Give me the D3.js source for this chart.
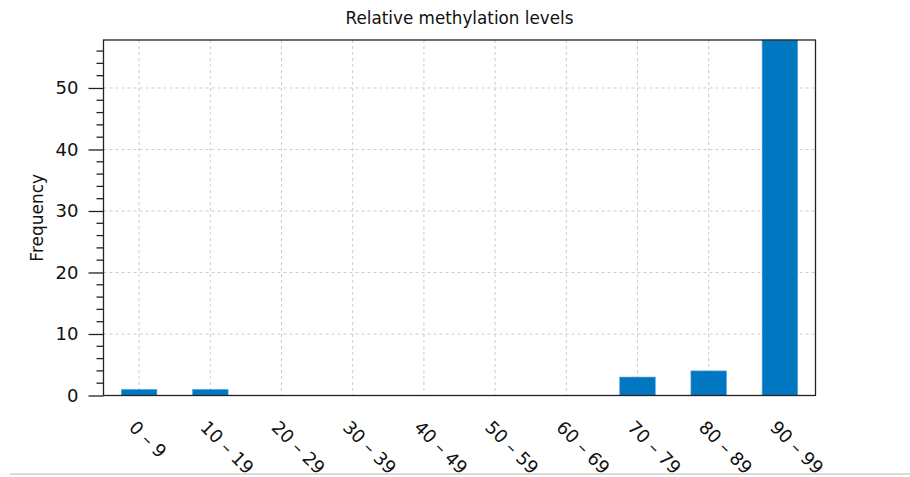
<!DOCTYPE html>
<html>
<head>
<meta charset="utf-8">
<script src="https://cdn.jsdelivr.net/npm/d3@7"></script>
<style>
  body { margin: 0; background: #fff; }
  svg { display: block; font-family: "DejaVu Sans", sans-serif; }
</style>
</head>
<body>
<svg id="canvas"></svg>
<script>
let categories = ['0 – 9', '10 – 19', '20 – 29', '30 – 39', '40 – 49', '50 – 59', '60 – 69', '70 – 79', '80 – 89', '90 – 99']
let counts = [1, 1, 0, 0, 0, 0, 0, 3, 4, 58]
let yTicks = [0, 10, 20, 30, 40, 50]

let width = 910
let height = 477
let plotLeft = 103.5
let plotRight = 815.5
let plotTop = 40
let plotBottom = 395.5

let canvas = d3.select('#canvas')
canvas.attr('width', width).attr('height', height)

let xScale = d3.scaleBand()
    .domain(categories)
    .range([plotLeft, plotRight])
    .paddingInner(0)

let yScale = d3.scaleLinear()
    .domain([0, 57.8])
    .range([plotBottom, plotTop])
    .clamp(true)

// grid
let grid = canvas.append('g')
grid.selectAll('line.v')
    .data(categories)
    .enter()
    .append('line')
    .attr('x1', d => xScale(d) + xScale.bandwidth() / 2)
    .attr('x2', d => xScale(d) + xScale.bandwidth() / 2)
    .attr('y1', plotTop)
    .attr('y2', plotBottom)
    .attr('stroke', '#cccccc')
    .attr('stroke-dasharray', '3,3')
grid.selectAll('line.h')
    .data(yTicks.filter(t => t > 0))
    .enter()
    .append('line')
    .attr('x1', plotLeft)
    .attr('x2', plotRight)
    .attr('y1', d => yScale(d))
    .attr('y2', d => yScale(d))
    .attr('stroke', '#cccccc')
    .attr('stroke-dasharray', '3,3')

// bars
canvas.selectAll('rect.bar')
    .data(counts)
    .enter()
    .append('rect')
    .attr('class', 'bar')
    .attr('x', (d, i) => xScale(categories[i]) + xScale.bandwidth() / 4)
    .attr('width', xScale.bandwidth() / 2)
    .attr('y', d => yScale(d))
    .attr('height', d => plotBottom - yScale(d))
    .attr('fill', '#0077c0')
    .attr('stroke', '#5aa8e0')
    .attr('stroke-width', 0.6)

// frame
canvas.append('rect')
    .attr('x', plotLeft)
    .attr('y', plotTop)
    .attr('width', plotRight - plotLeft)
    .attr('height', plotBottom - plotTop)
    .attr('fill', 'none')
    .attr('stroke', '#222')
    .attr('stroke-width', 1.3)

// y axis
let yAxis = d3.axisLeft(yScale)
    .tickValues(yTicks)
    .tickSize(15)
    .tickPadding(10)
let yg = canvas.append('g')
    .attr('transform', 'translate(' + plotLeft + ',0)')
    .call(yAxis)
yg.select('.domain').remove()
yg.selectAll('.tick line').attr('stroke', '#222').attr('stroke-width', 1.3)
yg.selectAll('.tick text').attr('font-size', 18).attr('fill', '#111').attr('font-family', 'DejaVu Sans')

let minor = d3.range(0, 58, 2).filter(v => v % 10 !== 0)
canvas.append('g')
    .selectAll('line')
    .data(minor)
    .enter()
    .append('line')
    .attr('x1', plotLeft - 7)
    .attr('x2', plotLeft)
    .attr('y1', d => yScale(d))
    .attr('y2', d => yScale(d))
    .attr('stroke', '#222')
    .attr('stroke-width', 1.3)

// x labels
canvas.append('g')
    .selectAll('text')
    .data(categories)
    .enter()
    .append('text')
    .attr('transform', d => 'translate(' + (xScale(d) + xScale.bandwidth() / 2 - 11) + ',' + (plotBottom + 33) + ') rotate(45)')
    .attr('font-size', 18)
    .attr('fill', '#111')
    .text(d => d)

// title
canvas.append('text')
    .attr('x', (plotLeft + plotRight) / 2)
    .attr('y', 24)
    .attr('text-anchor', 'middle')
    .attr('font-size', 16.8)
    .attr('fill', '#111')
    .text('Relative methylation levels')

// y label
canvas.append('text')
    .attr('transform', 'translate(43,' + ((plotTop + plotBottom) / 2) + ') rotate(-90)')
    .attr('text-anchor', 'middle')
    .attr('font-size', 17)
    .attr('fill', '#111')
    .text('Frequency')

// bottom separator
canvas.append('line')
    .attr('x1', 10)
    .attr('x2', width)
    .attr('y1', 474)
    .attr('y2', 474)
    .attr('stroke', '#d0d0d0')
    .attr('stroke-width', 1.5)
</script>
</body>
</html>
